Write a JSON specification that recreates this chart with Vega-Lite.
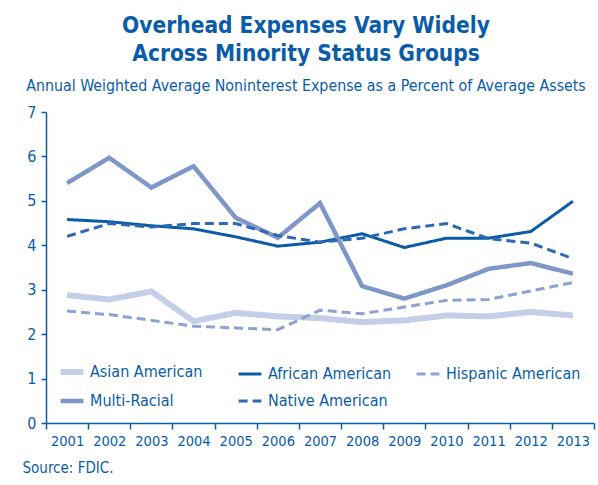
{
  "$schema": "https://vega.github.io/schema/vega-lite/v6.json",
  "width": 548,
  "height": 311,
  "autosize": "none",
  "padding": {"left": 46, "top": 112, "right": 4, "bottom": 62},
  "background": "white",
  "title": {
    "text": ["Overhead Expenses Vary Widely", "Across Minority Status Groups"],
    "subtitle": "Annual Weighted Average Noninterest Expense as a Percent of Average Assets",
    "anchor": "middle",
    "frame": "group",
    "dx": -14,
    "font": "DejaVu Sans Condensed",
    "fontSize": 22.5,
    "fontWeight": "bold",
    "color": "#0A5CA8",
    "lineHeight": 28,
    "subtitleFont": "DejaVu Sans Condensed",
    "subtitleFontSize": 15.8,
    "subtitleColor": "#0A5CA8",
    "subtitlePadding": 14,
    "offset": 10
  },
  "config": {
    "view": {"stroke": null},
    "font": "DejaVu Sans Condensed"
  },
  "data": {
    "values": [
      {"year": "2001", "group": "Asian American", "value": 2.88},
      {"year": "2002", "group": "Asian American", "value": 2.78},
      {"year": "2003", "group": "Asian American", "value": 2.96},
      {"year": "2004", "group": "Asian American", "value": 2.29},
      {"year": "2005", "group": "Asian American", "value": 2.48},
      {"year": "2006", "group": "Asian American", "value": 2.40},
      {"year": "2007", "group": "Asian American", "value": 2.36},
      {"year": "2008", "group": "Asian American", "value": 2.27},
      {"year": "2009", "group": "Asian American", "value": 2.31},
      {"year": "2010", "group": "Asian American", "value": 2.42},
      {"year": "2011", "group": "Asian American", "value": 2.40},
      {"year": "2012", "group": "Asian American", "value": 2.50},
      {"year": "2013", "group": "Asian American", "value": 2.42},
      {"year": "2001", "group": "African American", "value": 4.58},
      {"year": "2002", "group": "African American", "value": 4.53},
      {"year": "2003", "group": "African American", "value": 4.44},
      {"year": "2004", "group": "African American", "value": 4.37},
      {"year": "2005", "group": "African American", "value": 4.19},
      {"year": "2006", "group": "African American", "value": 3.98},
      {"year": "2007", "group": "African American", "value": 4.07},
      {"year": "2008", "group": "African American", "value": 4.26},
      {"year": "2009", "group": "African American", "value": 3.95},
      {"year": "2010", "group": "African American", "value": 4.16},
      {"year": "2011", "group": "African American", "value": 4.16},
      {"year": "2012", "group": "African American", "value": 4.31},
      {"year": "2013", "group": "African American", "value": 4.99},
      {"year": "2001", "group": "Hispanic American", "value": 2.52},
      {"year": "2002", "group": "Hispanic American", "value": 2.44},
      {"year": "2003", "group": "Hispanic American", "value": 2.31},
      {"year": "2004", "group": "Hispanic American", "value": 2.18},
      {"year": "2005", "group": "Hispanic American", "value": 2.14},
      {"year": "2006", "group": "Hispanic American", "value": 2.10},
      {"year": "2007", "group": "Hispanic American", "value": 2.54},
      {"year": "2008", "group": "Hispanic American", "value": 2.46},
      {"year": "2009", "group": "Hispanic American", "value": 2.61},
      {"year": "2010", "group": "Hispanic American", "value": 2.76},
      {"year": "2011", "group": "Hispanic American", "value": 2.78},
      {"year": "2012", "group": "Hispanic American", "value": 2.97},
      {"year": "2013", "group": "Hispanic American", "value": 3.16},
      {"year": "2001", "group": "Multi-Racial", "value": 5.40},
      {"year": "2002", "group": "Multi-Racial", "value": 5.97},
      {"year": "2003", "group": "Multi-Racial", "value": 5.30},
      {"year": "2004", "group": "Multi-Racial", "value": 5.78},
      {"year": "2005", "group": "Multi-Racial", "value": 4.62},
      {"year": "2006", "group": "Multi-Racial", "value": 4.17},
      {"year": "2007", "group": "Multi-Racial", "value": 4.95},
      {"year": "2008", "group": "Multi-Racial", "value": 3.08},
      {"year": "2009", "group": "Multi-Racial", "value": 2.80},
      {"year": "2010", "group": "Multi-Racial", "value": 3.10},
      {"year": "2011", "group": "Multi-Racial", "value": 3.47},
      {"year": "2012", "group": "Multi-Racial", "value": 3.60},
      {"year": "2013", "group": "Multi-Racial", "value": 3.36},
      {"year": "2001", "group": "Native American", "value": 4.20},
      {"year": "2002", "group": "Native American", "value": 4.49},
      {"year": "2003", "group": "Native American", "value": 4.41},
      {"year": "2004", "group": "Native American", "value": 4.49},
      {"year": "2005", "group": "Native American", "value": 4.49},
      {"year": "2006", "group": "Native American", "value": 4.22},
      {"year": "2007", "group": "Native American", "value": 4.07},
      {"year": "2008", "group": "Native American", "value": 4.16},
      {"year": "2009", "group": "Native American", "value": 4.37},
      {"year": "2010", "group": "Native American", "value": 4.49},
      {"year": "2011", "group": "Native American", "value": 4.15},
      {"year": "2012", "group": "Native American", "value": 4.05},
      {"year": "2013", "group": "Native American", "value": 3.70}
    ]
  },
  "mark": {"type": "line", "strokeCap": "butt", "strokeJoin": "miter"},
  "encoding": {
    "x": {
      "field": "year",
      "type": "ordinal",
      "bandPosition": 0.5,
      "scale": {"type": "band", "paddingInner": 0, "paddingOuter": 0},
      "axis": {
        "title": "Source: FDIC.",
        "titleFontSize": 15,
        "titleFontWeight": "normal",
        "titleColor": "#0A5CA8",
        "titleAlign": "left",
        "titleAnchor": "start",
        "titleBaseline": "middle",
        "titleX": -24,
        "titleY": 44,
        "labelAngle": 0,
        "labelFontSize": 14.5,
        "labelColor": "#0A5CA8",
        "labelPadding": 5,
        "tickBand": "extent",
        "tickSize": 6,
        "tickColor": "#0A5CA8",
        "domainColor": "#0A5CA8",
        "tickWidth": 1.5,
        "domainWidth": 1.5
      }
    },
    "y": {
      "field": "value",
      "type": "quantitative",
      "scale": {"domain": [0, 7], "nice": false},
      "axis": {
        "title": null,
        "values": [0, 1, 2, 3, 4, 5, 6, 7],
        "grid": false,
        "labelFontSize": 16,
        "labelColor": "#0A5CA8",
        "labelPadding": 5,
        "tickSize": 5,
        "tickColor": "#0A5CA8",
        "domainColor": "#0A5CA8",
        "tickWidth": 1.5,
        "domainWidth": 1.5
      }
    },
    "color": {
      "field": "group",
      "type": "nominal",
      "scale": {
        "domain": ["Asian American", "African American", "Hispanic American", "Multi-Racial", "Native American"],
        "range": ["#C4CEE8", "#0A5CA8", "#8DA1D2", "#7F96C9", "#2E69B3"]
      },
      "legend": {
        "title": null,
        "orient": "none",
        "legendX": 18,
        "legendY": 252,
        "columns": 3,
        "direction": "horizontal",
        "gridAlign": "all",
        "columnPadding": 7,
        "rowPadding": 8,
        "symbolType": "stroke",
        "symbolSize": 520,
        "labelFontSize": 16,
        "labelColor": "#0A5CA8",
        "labelOffset": 10,
        "encode": {
          "symbols": {
            "update": {
              "strokeWidth": {"signal": "datum.value === 'Asian American' ? 6 : datum.value === 'Multi-Racial' ? 4.5 : 3"}
            }
          }
        }
      }
    },
    "strokeDash": {
      "field": "group",
      "type": "nominal",
      "scale": {
        "domain": ["Asian American", "African American", "Hispanic American", "Multi-Racial", "Native American"],
        "range": [[1, 0], [1, 0], [9, 5], [1, 0], [9, 5]]
      }
    },
    "strokeWidth": {
      "condition": [
        {"test": "datum.group === 'Asian American'", "value": 6},
        {"test": "datum.group === 'Multi-Racial'", "value": 4.5}
      ],
      "value": 3
    }
  }
}
